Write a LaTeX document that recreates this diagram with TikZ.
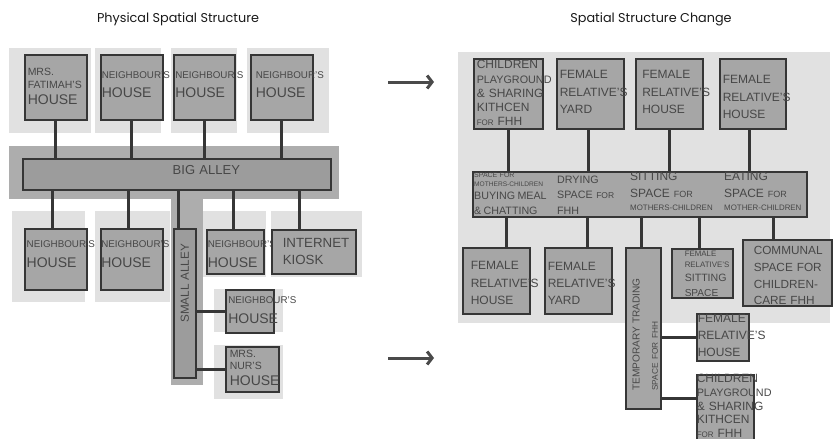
\documentclass[tikz,border=0pt]{standalone}
\usepackage{fontspec}
\setmainfont{Liberation Sans}
\newfontfamily\titlefont{Poppins}
\usetikzlibrary{arrows.meta}
\definecolor{pale}{HTML}{E1E1E1}
\definecolor{alleybg}{HTML}{ADADAD}
\definecolor{alleyfill}{HTML}{9C9C9C}
\definecolor{boxfill}{HTML}{A6A6A6}
\definecolor{edge}{HTML}{363636}
\definecolor{ink}{HTML}{474747}
\newcommand\fs[1]{\fontsize{#1}{\baselineskip}\selectfont}
\hyphenpenalty=10000
\exhyphenpenalty=10000
\uchyph=0

\begin{document}
\begin{tikzpicture} [x=1pt, y=-1pt,
  box/.style n args={3}{draw=edge, fill=boxfill, line width=1.5pt, anchor=north west,
    align=left, inner xsep=1.5pt, inner ysep=0pt, text=ink,
    text width=#1, text height=#2, text depth=#3},
  band/.style={draw=edge, fill=boxfill, line width=1.5pt, anchor=north west,
    inner sep=0pt, minimum width=334pt, minimum height=45pt},
  cell/.style={anchor=base west, inner sep=0pt, align=left, text width=100pt, text=ink},
  link/.style={draw=edge, line width=3pt},
  move/.style={draw=edge!90, line width=3pt, -{Straight Barb[length=5pt, width=13pt]}},
  title/.style={anchor=base, font=\titlefont\fontsize{12.8}{15}\selectfont, text=black!90}]

\clip (0,0) rectangle (833,439);

\node (ttlL) [title] at (178,22) {Physical Spatial Structure};
\node (ttlR) [title] at (651,22) {Spatial Structure Change};

% backgrounds
\fill [pale] (9,48) rectangle (91,133);
\fill [pale] (95,48) rectangle (161,133);
\fill [pale] (171,48) rectangle (237,133);
\fill [pale] (247,48) rectangle (329,133);
\fill [pale] (12,211) rectangle (85,302);
\fill [pale] (95,211) rectangle (170,302);
\fill [pale] (197,211) rectangle (266,277);
\fill [pale] (271,211) rectangle (362,277);
\fill [pale] (214,289) rectangle (283,332);
\fill [pale] (214,345) rectangle (283,399);
\fill [alleybg] (9,146) rectangle (339,199);
\fill [alleybg] (171,199) rectangle (203,385);
\fill [pale] (458,52) rectangle (830,323);

% physical structure
\node (fatimah) [box={56pt}{21pt}{44pt}, inner xsep=3pt, font=\fontsize{10.5}{13}\selectfont]
  at (24,54) {MRS.\\ FATIMAH'S\\[3pt] \fs{14}HOUSE};
\node (nbA) [box={60pt}{24pt}{41pt}, inner xsep=1pt, font=\fontsize{9.8}{19}\selectfont]
  at (100,54) {NEIGHBOUR'S\\ \fs{14}HOUSE};
\node (nbB) [box={58pt}{24pt}{41pt}, font=\fontsize{9.8}{19}\selectfont]
  at (173,54) {NEIGHBOUR'S\\ \fs{14}HOUSE};
\node (nbC) [box={52pt}{24pt}{41pt}, inner xsep=5pt, font=\fontsize{9.8}{19}\selectfont]
  at (250,54) {NEIGHBOUR'S\\ \fs{14}HOUSE};

\node (bigalley) [box={308pt}{16pt}{15pt}, inner xsep=0pt, fill=alleyfill, font=\fontsize{13}{15}\selectfont]
  at (22,158) {\hspace*{150pt}BIG~ALLEY};

\node (nbD) [box={58pt}{19pt}{42pt}, inner xsep=2pt, font=\fontsize{9.8}{20}\selectfont]
  at (24,228) {NEIGHBOUR'S\\ \fs{14}HOUSE};
\node (nbE) [box={61pt}{19pt}{42pt}, inner xsep=0.5pt, font=\fontsize{9.8}{20}\selectfont]
  at (100,228) {NEIGHBOUR'S\\ \fs{14}HOUSE};
\node (smallalley) [box={22pt}{94pt}{55pt}, inner xsep=0pt, align=center, fill=alleyfill,
  font=\fontsize{11.7}{14}\selectfont] at (173,228) {\rotatebox{90}{SMALL~ALLEY}};
\node (nbF) [box={55pt}{18pt}{26pt}, inner xsep=1pt, font=\fontsize{9.8}{20}\selectfont]
  at (206,229) {NEIGHBOUR'S\\ \fs{14}HOUSE};
\node (kiosk) [box={62pt}{18pt}{26pt}, inner xsep=11pt, font=\fontsize{13.3}{17}\selectfont]
  at (271,229) {INTERNET\\ KIOSK};
\node (nbG) [box={43pt}{14pt}{29pt}, inner xsep=2.5pt, font=\fontsize{9.8}{20}\selectfont]
  at (225,289) {NEIGHBOUR'S\\ \fs{14}HOUSE};
\node (nur) [box={45pt}{11pt}{34pt}, inner xsep=4pt, font=\fontsize{10.5}{12}\selectfont]
  at (225,346) {MRS.\\ NUR'S\\[4pt] \fs{14}HOUSE};

\draw [link] (fatimah.south) -- (fatimah.south |- bigalley.north);
\draw [link] (nbA.south) -- (nbA.south |- bigalley.north);
\draw [link] (nbB.south) -- (nbB.south |- bigalley.north);
\draw [link] (nbC.south) -- (nbC.south |- bigalley.north);
\draw [link] ([xshift=-3pt]nbD.north) -- ([xshift=-3pt]nbD.north |- bigalley.south);
\draw [link] ([xshift=-3pt]nbE.north) -- ([xshift=-3pt]nbE.north |- bigalley.south);
\draw [link] ([xshift=-6pt]smallalley.north) -- ([xshift=-6pt]smallalley.north |- bigalley.south);
\draw [link] ([xshift=-2pt]nbF.north) -- ([xshift=-2pt]nbF.north |- bigalley.south);
\draw [link] ([xshift=-14pt]kiosk.north) -- ([xshift=-14pt]kiosk.north |- bigalley.south);
\draw [link] (nbG.west) -- (nbG.west -| smallalley.east);
\draw [link] (nur.west) -- (nur.west -| smallalley.east);

% arrows
\coordinate (arrA1) at (388,82);
\coordinate (arrA2) at (434,82);
\coordinate (arrB1) at (388,358);
\coordinate (arrB2) at (434,358);
\draw [move] (arrA1) -- (arrA2);
\draw [move] (arrB1) -- (arrB2);

% spatial change
\node (kitA) [box={63pt}{10pt}{60pt}, inner xsep=3pt, font=\fontsize{12}{14.3}\selectfont]
  at (473,58) {CHILDREN\\ \fs{10.8}PLAYGROUND\\ \fs{12}\&~SHARING\\ KITHCEN\\ {\fs{8}FOR}~FHH};
\node (yardA) [box={61pt}{20pt}{50pt}, inner xsep=3pt, font=\fontsize{12}{17.5}\selectfont]
  at (556,58) {FEMALE\\ RELATIVE'S\\ YARD};
\node (relA) [box={54pt}{20pt}{50pt}, inner xsep=6.5pt, font=\fontsize{12}{17.5}\selectfont]
  at (635,58) {FEMALE\\ RELATIVE'S\\ HOUSE};
\node (relB) [box={60pt}{25pt}{45pt}, inner xsep=3pt, font=\fontsize{12}{17.5}\selectfont]
  at (719,58) {FEMALE\\ RELATIVE'S\\ HOUSE};

\node (street) [band] at (472,171) {};
\node (useA) [cell, font=\fontsize{7}{9}\selectfont] at (474,177)
  {SPACE~FOR\\ \fs{6.6}\mbox{MOTHERS-CHILDREN}\\[4pt] \fs{10.7}BUYING~MEAL\\[6pt] \&~CHATTING};
\node (useB) [cell, font=\fontsize{10.7}{15}\selectfont] at (557,183)
  {DRYING\\ SPACE~{\fs{8.5}FOR}\\[1pt] FHH};
\node (useC) [cell, font=\fontsize{12}{17}\selectfont] at (630,180)
  {SITTING\\ SPACE~{\fs{9}FOR}\\[-4pt] \fs{7.9}\mbox{MOTHERS-CHILDREN}};
\node (useD) [cell, font=\fontsize{12}{17}\selectfont] at (724,180)
  {EATING\\ SPACE~{\fs{9}FOR}\\[-4pt] \fs{7.9}\mbox{MOTHER-CHILDREN}};

\node (relC) [box={51pt}{22pt}{44pt}, inner xsep=8pt, font=\fontsize{12}{17.5}\selectfont]
  at (462,247) {FEMALE\\ RELATIVE'S\\ HOUSE};
\node (yardB) [box={61pt}{23pt}{43pt}, inner xsep=3pt, font=\fontsize{12}{17}\selectfont]
  at (544,247) {FEMALE\\ RELATIVE'S\\ YARD};
\node (trade) [box={24pt}{143pt}{18pt}, inner xsep=5.5pt, font=\fontsize{10.1}{12.1}\selectfont]
  at (625,247) {\rotatebox{90}{\begin{tabular}{@{}l@{}}TEMPORARY~TRADING\\[6pt] \fs{8.3}SPACE~FOR~FHH\end{tabular}}};
\node (sitting) [box={35pt}{8pt}{41pt}, inner xsep=13pt, font=\fontsize{7.9}{11}\selectfont]
  at (671,248) {FEMALE\\ RELATIVE'S\\[3pt] \fs{10.6}SITTING\\[4pt] \fs{10.1}SPACE};
\node (communal) [box={67pt}{15pt}{51pt}, inner xsep=11pt, font=\fontsize{11.8}{16.7}\selectfont]
  at (742,239) {COMMUNAL\\ SPACE~FOR\\ CHILDREN-\\ CARE~FHH};
\node (relD) [box={50pt}{9pt}{38pt}, inner xsep=1pt, font=\fontsize{12}{17}\selectfont]
  at (696,313) {FEMALE\\ RELATIVE'S\\ HOUSE};
\node (kitB) [box={57pt}{8pt}{72pt}, inner xsep=0pt, font=\fontsize{12}{13.7}\selectfont]
  at (696,374) {CHILDREN\\ \fs{10.8}PLAYGROUND\\ \fs{12}\&~SHARING\\ KITHCEN\\ {\fs{8}FOR}~FHH};

\draw [link] (kitA.south) -- (kitA.south |- street.north);
\draw [link] ([xshift=-2pt]yardA.south) -- ([xshift=-2pt]yardA.south |- street.north);
\draw [link] (relA.south) -- (relA.south |- street.north);
\draw [link] ([xshift=-3pt]relB.south) -- ([xshift=-3pt]relB.south |- street.north);
\draw [link] ([xshift=10pt]relC.north) -- ([xshift=10pt]relC.north |- street.south);
\draw [link] ([xshift=9pt]yardB.north) -- ([xshift=9pt]yardB.north |- street.south);
\draw [link] ([xshift=-1.5pt]trade.north) -- ([xshift=-1.5pt]trade.north |- street.south);
\draw [link] ([xshift=-2.5pt]sitting.north) -- ([xshift=-2.5pt]sitting.north |- street.south);
\draw [link] ([xshift=-13.5pt]communal.north) -- ([xshift=-13.5pt]communal.north |- street.south);
\draw [link] (relD.west) -- (relD.west -| trade.east);
\draw [link] ([yshift=-24pt]kitB.north west) -- ([yshift=-24pt]kitB.north west -| trade.east);

\end{tikzpicture}
\end{document}
